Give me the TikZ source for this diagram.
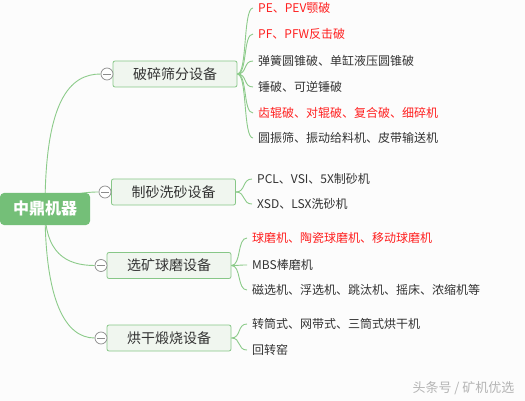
\documentclass[tikz,border=0pt]{standalone}
\usepackage{fontspec}
\newfontfamily\cjk{Noto Sans CJK SC}
\usetikzlibrary{calc}
\definecolor{bgc}{HTML}{FCFCFC}
\definecolor{lnc}{HTML}{8CCB8A}
\definecolor{rootc}{HTML}{74BF78}
\definecolor{nfill}{HTML}{F0F6EF}
\definecolor{nline}{HTML}{87C787}
\definecolor{txt}{HTML}{333333}
\definecolor{redt}{HTML}{FF2020}
\definecolor{wm}{HTML}{B4B4B4}
\pgfdeclarelayer{bgl}
\pgfdeclarelayer{edges}
\pgfsetlayers{bgl,edges,main}
\tikzset{
  rootbox/.style={fill=rootc, rounded corners=4pt, minimum width=90pt, minimum height=32pt, text=white, font=\cjk\bfseries\fontsize{16}{18}\selectfont, inner sep=0pt},
  catbox/.style={fill=nfill, draw=nline, line width=0.8pt, rounded corners=2pt, minimum width=124pt, minimum height=26pt, text=txt, font=\cjk\fontsize{14}{16}\selectfont, inner sep=0pt},
  togglec/.style={circle, draw=gray!90, fill=white, line width=0.7pt, minimum size=12pt, inner sep=0pt},
  leaf/.style={anchor=west, text=txt, font=\cjk\fontsize{12}{14}\selectfont, inner xsep=5pt, inner ysep=1pt},
  redleaf/.style={leaf, text=redt},
  link/.style={draw=lnc, line width=0.9pt},
}
\begin{document}
\begin{tikzpicture}[x=1pt,y=-1pt]
\begin{pgfonlayer}{bgl}
\fill[bgc] (0,0) rectangle (525,401);
\end{pgfonlayer}
\useasboundingbox (0,0) rectangle (525,401);

\node[rootbox] (root) at (45,209) {中鼎机器};

\node[catbox] (c1) at (175,74) {破碎筛分设备};
\node[catbox] (c2) at (173.5,192) {制砂洗砂设备};
\node[catbox] (c3) at (169,265.5) {选矿球磨设备};
\node[catbox] (c4) at (169,338) {烘干煅烧设备};

\node[togglec] (t1) at (107,74) {};
\node[togglec] (t2) at (105,192) {};
\node[togglec] (t3) at (101,265.5) {};
\node[togglec] (t4) at (101,338) {};
\foreach \t in {t1,t2,t3,t4} {\draw[gray!90, line width=0.7pt] ($(\t.center)+(-4,0)$) -- ($(\t.center)+(4,0)$);}

% leaves group 1
\node[redleaf] (l11) at (253,8) {PE、PEV颚破};
\node[redleaf] (l12) at (253,34) {PF、PFW反击破};
\node[leaf] (l13) at (253,61) {弹簧圆锥破、单缸液压圆锥破};
\node[leaf] (l14) at (253,87) {锤破、可逆锤破};
\node[redleaf] (l15) at (253,113) {齿辊破、对辊破、复合破、细碎机};
\node[leaf] (l16) at (253,138) {圆振筛、振动给料机、皮带输送机};
% group 2
\node[leaf] (l21) at (252,179) {PCL、VSI、5X制砂机};
\node[leaf] (l22) at (252,204) {XSD、LSX洗砂机};
% group 3
\node[redleaf] (l31) at (247,238) {球磨机、陶瓷球磨机、移动球磨机};
\node[leaf] (l32) at (247,265) {MBS棒磨机};
\node[leaf] (l33) at (247,290) {磁选机、浮选机、跳汰机、摇床、浓缩机等};
% group 4
\node[leaf] (l41) at (247,324) {转筒式、网带式、三筒式烘干机};
\node[leaf] (l42) at (247,350) {回转窑};

\node[text=wm, font=\cjk\fontsize{13}{15}\selectfont, anchor=east] (wm) at (518,388) {头条号 / 矿机优选};

\begin{pgfonlayer}{edges}
\draw[link] (root.center) .. controls (45,100) and (70,74) .. (t1.west);
\draw[link] (root.center) .. controls (62,196) and (80,192) .. (t2.west);
\draw[link] (root.center) .. controls (45,252) and (65,265.5) .. (t3.west);
\draw[link] (root.center) .. controls (45,300) and (65,338) .. (t4.west);
\foreach \l in {l11,l12,l13,l14,l15,l16} {\draw[link] (c1.east) .. controls +(10,0) and +(-10,0) .. (\l.west);}
\foreach \l in {l21,l22} {\draw[link] (c2.east) .. controls +(10,0) and +(-10,0) .. (\l.west);}
\foreach \l in {l31,l32,l33} {\draw[link] (c3.east) .. controls +(10,0) and +(-10,0) .. (\l.west);}
\foreach \l in {l41,l42} {\draw[link] (c4.east) .. controls +(10,0) and +(-10,0) .. (\l.west);}
\end{pgfonlayer}
\end{tikzpicture}
\end{document}
